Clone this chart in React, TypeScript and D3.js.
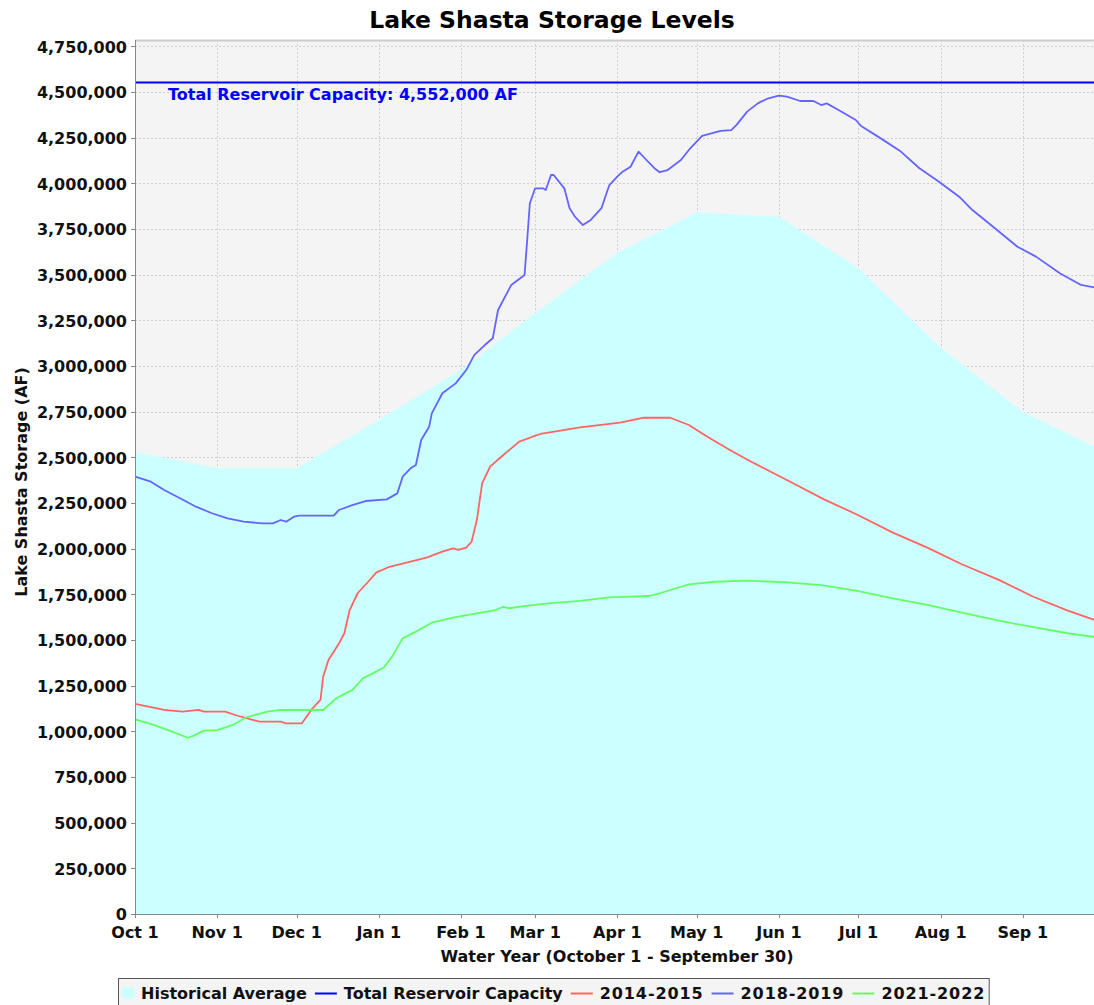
import { useEffect, useRef } from 'react';
import * as d3 from 'd3';

// water year runs Oct 1 -> Sep 30, dates kept as "MM-DD"
const monthLabels = ['Oct 1', 'Nov 1', 'Dec 1', 'Jan 1', 'Feb 1', 'Mar 1', 'Apr 1', 'May 1', 'Jun 1', 'Jul 1', 'Aug 1', 'Sep 1'];
const yTicks = [0, 250000, 500000, 750000, 1000000, 1250000, 1500000, 1750000, 2000000, 2250000, 2500000, 2750000, 3000000, 3250000, 3500000, 3750000, 4000000, 4250000, 4500000, 4750000];
const capacity = 4552000;

const historicalAvg: [string, number][] = [
    ['10-01', 2530000], ['11-01', 2440000], ['12-01', 2440000], ['01-01', 2705000],
    ['02-01', 2980000], ['03-01', 3290000], ['04-01', 3620000], ['05-01', 3840000],
    ['06-01', 3818000], ['07-01', 3535000], ['08-01', 3100000], ['09-01', 2750000],
    ['09-30', 2545000],
];

const wy2015: [string, number][] = [
    ['10-01', 1150000], ['10-07', 1132000], ['10-12', 1117000], ['10-19', 1108000], ['10-25', 1117000],
    ['10-27', 1108000], ['11-04', 1108000], ['11-09', 1084000], ['11-17', 1053000], ['11-25', 1053000],
    ['11-27', 1044000], ['12-03', 1044000], ['12-07', 1126000], ['12-10', 1172000], ['12-11', 1299000],
    ['12-13', 1391000], ['12-15', 1436000], ['12-17', 1482000], ['12-19', 1537000], ['12-21', 1664000],
    ['12-24', 1756000], ['12-28', 1819000], ['12-31', 1869000], ['01-05', 1901000], ['01-13', 1929000],
    ['01-19', 1951000], ['01-25', 1984000], ['01-29', 2002000], ['01-31', 1993000], ['02-03', 2006000],
    ['02-05', 2038000], ['02-07', 2157000], ['02-09', 2358000], ['02-12', 2449000], ['02-17', 2513000],
    ['02-23', 2586000], ['02-28', 2613000], ['03-03', 2628000], ['03-18', 2664000], ['04-02', 2690000],
    ['04-11', 2717000], ['04-21', 2717000], ['04-28', 2677000], ['05-05', 2613000], ['05-13', 2544000],
    ['05-21', 2480000], ['06-04', 2376000], ['06-18', 2270000], ['06-30', 2190000], ['07-14', 2088000],
    ['07-27', 2006000], ['08-09', 1915000], ['08-23', 1829000], ['09-05', 1737000], ['09-18', 1661000],
    ['09-30', 1600000],
];

const wy2019: [string, number][] = [
    ['10-01', 2394000], ['10-07', 2367000], ['10-12', 2321000], ['10-18', 2276000], ['10-24', 2230000],
    ['10-30', 2194000], ['11-05', 2166000], ['11-11', 2148000], ['11-18', 2139000], ['11-22', 2139000],
    ['11-25', 2157000], ['11-27', 2148000], ['11-30', 2175000], ['12-02', 2181000], ['12-15', 2181000],
    ['12-17', 2212000], ['12-22', 2239000], ['12-27', 2261000], ['01-04', 2270000], ['01-08', 2303000],
    ['01-10', 2394000], ['01-13', 2440000], ['01-15', 2458000], ['01-17', 2595000], ['01-20', 2668000],
    ['01-21', 2741000], ['01-25', 2851000], ['01-30', 2905000], ['02-03', 2978000], ['02-06', 3060000],
    ['02-10', 3115000], ['02-13', 3152000], ['02-15', 3307000], ['02-20', 3444000], ['02-25', 3498000],
    ['02-26', 3690000], ['02-27', 3891000], ['03-01', 3973000], ['03-04', 3973000], ['03-05', 3964000],
    ['03-07', 4046000], ['03-08', 4046000], ['03-12', 3973000], ['03-14', 3864000], ['03-16', 3818000],
    ['03-19', 3772000], ['03-22', 3800000], ['03-26', 3864000], ['03-29', 3991000], ['04-01', 4037000],
    ['04-03', 4064000], ['04-06', 4091000], ['04-09', 4174000], ['04-12', 4128000], ['04-15', 4083000],
    ['04-17', 4061000], ['04-20', 4073000], ['04-25', 4128000], ['04-28', 4183000], ['05-03', 4260000],
    ['05-10', 4287000], ['05-14', 4292000], ['05-16', 4320000], ['05-20', 4393000], ['05-24', 4438000],
    ['05-28', 4466000], ['06-01', 4480000], ['06-04', 4475000], ['06-09', 4451000], ['06-14', 4451000],
    ['06-17', 4429000], ['06-19', 4438000], ['06-23', 4406000], ['06-30', 4347000], ['07-02', 4314000],
    ['07-10', 4241000], ['07-17', 4174000], ['07-24', 4083000], ['07-31', 4013000], ['08-08', 3927000],
    ['08-13', 3854000], ['08-20', 3772000], ['08-30', 3653000], ['09-06', 3599000], ['09-15', 3508000],
    ['09-23', 3444000], ['09-30', 3425000],
];

const wy2022: [string, number][] = [
    ['10-01', 1066000], ['10-08', 1035000], ['10-15', 998000], ['10-21', 965000], ['10-23', 975000],
    ['10-27', 1004000], ['11-01', 1007000], ['11-07', 1035000], ['11-12', 1077000], ['11-20', 1108000],
    ['11-25', 1117000], ['12-11', 1117000], ['12-16', 1181000], ['12-20', 1212000], ['12-22', 1226000],
    ['12-26', 1290000], ['12-31', 1327000], ['01-03', 1351000], ['01-06', 1409000], ['01-10', 1509000],
    ['01-15', 1546000], ['01-21', 1595000], ['01-29', 1622000], ['02-07', 1646000], ['02-14', 1664000],
    ['02-17', 1682000], ['02-19', 1674000], ['02-25', 1686000], ['03-06', 1701000], ['03-18', 1714000],
    ['03-29', 1734000], ['04-13', 1741000], ['04-17', 1756000], ['04-28', 1805000], ['05-08', 1819000],
    ['05-20', 1825000], ['06-04', 1816000], ['06-17', 1801000], ['06-30', 1770000], ['07-14', 1728000],
    ['07-27', 1692000], ['08-09', 1650000], ['08-23', 1606000], ['09-05', 1570000], ['09-18', 1537000],
    ['09-30', 1512000],
];

const seriesNames = ['2014-2015', '2018-2019', '2021-2022'];
const seriesColors = ['#ff6464', '#6464ff', '#64ff64'];

function toDate(md: string) {
    const [m, d] = md.split('-').map(Number);
    return new Date(Date.UTC(m >= 10 ? 2021 : 2022, m - 1, d));
}

function App() {
    const svgRef = useRef<SVGSVGElement>(null);

    useEffect(() => {
        if (!svgRef.current) return;
        const svg = d3.select(svgRef.current);
        svg.selectAll('*').remove();

        const left = 135;
        const top = 40;
        const bottom = 914;
        const right = 135 + 365 * 2.65;
        const font = 'DejaVu Sans, sans-serif';

        const start = new Date(Date.UTC(2021, 9, 1));
        const end = new Date(Date.UTC(2022, 9, 1));
        const x = d3.scaleUtc().domain([start, end]).range([left, right]);
        const y = d3.scaleLinear().domain([0, 4785000]).range([bottom, top]);
        const monthTicks = d3.utcMonth.range(start, end);

        // plot background
        svg.append('rect')
            .attr('x', left).attr('y', top)
            .attr('width', right - left).attr('height', bottom - top)
            .attr('fill', '#f4f4f4');
        svg.append('line')
            .attr('x1', left).attr('x2', right).attr('y1', top + 0.5).attr('y2', top + 0.5)
            .attr('stroke', '#cccccc').attr('stroke-width', 2);

        // grid
        svg.append('g').selectAll('line').data(yTicks).join('line')
            .attr('x1', left).attr('x2', right)
            .attr('y1', d => Math.round(y(d)) + 0.5).attr('y2', d => Math.round(y(d)) + 0.5)
            .attr('stroke', '#cfcfcf').attr('stroke-dasharray', '2,2');
        svg.append('g').selectAll('line').data(monthTicks).join('line')
            .attr('x1', d => Math.round(x(d)) + 0.5).attr('x2', d => Math.round(x(d)) + 0.5)
            .attr('y1', top).attr('y2', bottom)
            .attr('stroke', '#cfcfcf').attr('stroke-dasharray', '2,2');

        // historical average area
        const area = d3.area<[string, number]>()
            .x(d => x(toDate(d[0])))
            .y0(y(0))
            .y1(d => y(d[1]));
        svg.append('path')
            .datum(historicalAvg)
            .attr('d', area)
            .attr('fill', '#ccffff');

        // capacity line + label
        svg.append('line')
            .attr('x1', left).attr('x2', right)
            .attr('y1', y(capacity)).attr('y2', y(capacity))
            .attr('stroke', '#0000ff').attr('stroke-width', 2);
        svg.append('text')
            .attr('x', 168).attr('y', y(capacity) + 17.5)
            .attr('fill', '#0000ff')
            .attr('font-family', font).attr('font-weight', 'bold').attr('font-size', 16)
            .text(`Total Reservoir Capacity: ${d3.format(',')(capacity)} AF`);

        // year series
        const line = d3.line<[string, number]>()
            .x(d => x(toDate(d[0])))
            .y(d => y(d[1]));
        [wy2015, wy2019, wy2022].forEach((s, i) => {
            svg.append('path')
                .datum(s)
                .attr('d', line)
                .attr('fill', 'none')
                .attr('stroke', seriesColors[i])
                .attr('stroke-width', 1.8)
                .attr('stroke-linejoin', 'round');
        });

        // axes lines
        svg.append('line')
            .attr('x1', left + 0.5).attr('x2', left + 0.5).attr('y1', top).attr('y2', bottom)
            .attr('stroke', '#888888');
        svg.append('line')
            .attr('x1', left).attr('x2', right).attr('y1', bottom + 0.5).attr('y2', bottom + 0.5)
            .attr('stroke', '#888888');

        // y ticks
        const yg = svg.append('g');
        yg.selectAll('line').data(yTicks).join('line')
            .attr('x1', left - 4).attr('x2', left)
            .attr('y1', d => Math.round(y(d)) + 0.5).attr('y2', d => Math.round(y(d)) + 0.5)
            .attr('stroke', '#888888');
        yg.selectAll('text').data(yTicks).join('text')
            .attr('x', 127).attr('y', d => y(d) + 6.2)
            .attr('text-anchor', 'end')
            .attr('font-family', font).attr('font-weight', 'bold').attr('font-size', 16)
            .attr('fill', '#111')
            .text(d => d3.format(',')(d));

        // x ticks
        const xg = svg.append('g');
        xg.selectAll('line').data(monthTicks).join('line')
            .attr('x1', d => Math.round(x(d)) + 0.5).attr('x2', d => Math.round(x(d)) + 0.5)
            .attr('y1', bottom).attr('y2', bottom + 4)
            .attr('stroke', '#888888');
        xg.selectAll('text').data(monthTicks).join('text')
            .attr('x', d => x(d)).attr('y', 937.5)
            .attr('text-anchor', 'middle')
            .attr('font-family', font).attr('font-weight', 'bold').attr('font-size', 16)
            .attr('fill', '#111')
            .text((d, i) => monthLabels[i]);

        // titles
        svg.append('text')
            .attr('x', 552).attr('y', 28)
            .attr('text-anchor', 'middle')
            .attr('font-family', font).attr('font-weight', 'bold').attr('font-size', 23.5)
            .text('Lake Shasta Storage Levels');
        svg.append('text')
            .attr('x', 617).attr('y', 962)
            .attr('text-anchor', 'middle')
            .attr('font-family', font).attr('font-weight', 'bold').attr('font-size', 16)
            .attr('fill', '#111')
            .text('Water Year (October 1 - September 30)');
        svg.append('text')
            .attr('transform', 'translate(27,482) rotate(-90)')
            .attr('text-anchor', 'middle')
            .attr('font-family', font).attr('font-weight', 'bold').attr('font-size', 16)
            .attr('fill', '#111')
            .text('Lake Shasta Storage (AF)');

        // legend
        const lg = svg.append('g');
        const box = lg.append('rect')
            .attr('x', 118.5).attr('y', 978.5).attr('height', 32)
            .attr('fill', '#f4f4f4').attr('stroke', '#555');
        const items = [
            { name: 'Historical Average', color: '#ccffff', kind: 'area', spacing: 0 },
            { name: 'Total Reservoir Capacity', color: '#0000ff', kind: 'line', spacing: 0 },
            ...seriesNames.map((n, i) => ({ name: n, color: seriesColors[i], kind: 'line', spacing: 0.9 })),
        ];
        let cx = 122;
        items.forEach(it => {
            if (it.kind === 'area') {
                lg.append('rect').attr('x', cx).attr('y', 987).attr('width', 12).attr('height', 12)
                    .attr('rx', 3).attr('fill', it.color);
                cx += 12;
            } else {
                lg.append('line').attr('x1', cx).attr('x2', cx + 22).attr('y1', 993.5).attr('y2', 993.5)
                    .attr('stroke', it.color).attr('stroke-width', 2);
                cx += 22;
            }
            cx += 7;
            const t = lg.append('text')
                .attr('x', cx).attr('y', 999)
                .attr('font-family', font).attr('font-weight', 'bold').attr('font-size', 16)
                .attr('letter-spacing', it.spacing)
                .attr('fill', '#111')
                .text(it.name);
            const w = (t.node() as SVGTextElement).getComputedTextLength();
            cx += w + 8;
        });
        box.attr('width', cx - 4 - 118.5);
    }, []);

    return (
        <svg
            ref={svgRef}
            width={1094}
            height={1005}
            style={{ position: 'absolute', left: 0, top: 0, background: '#fff' }}
        />
    );
}

export default App;
